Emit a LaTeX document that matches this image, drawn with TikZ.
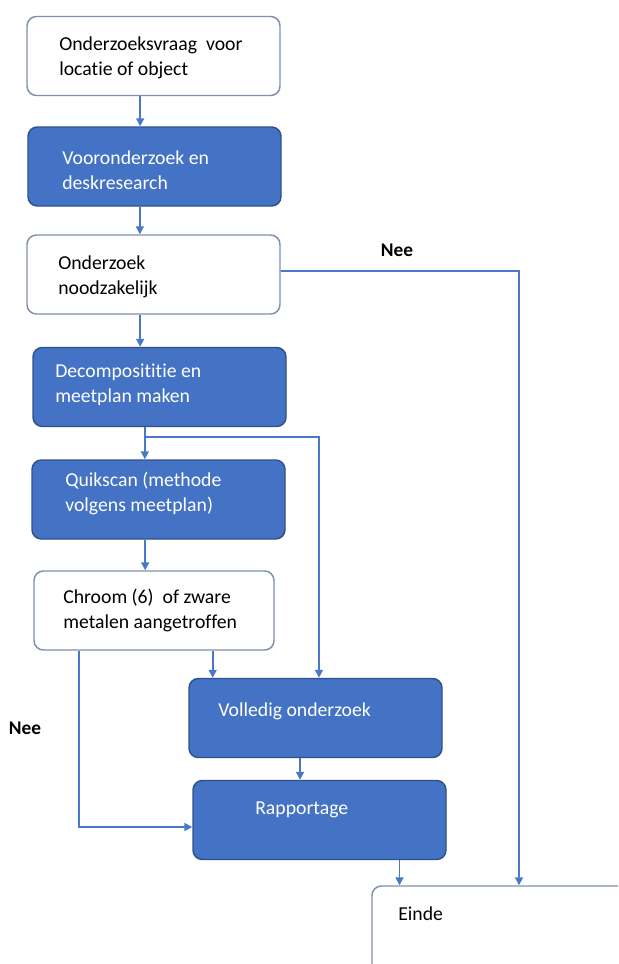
\documentclass[tikz,border=0pt]{standalone}
\usepackage{fontspec}
\setmainfont{Carlito}[Ligatures={NoCommon,NoRare}]
\usetikzlibrary{arrows.meta}

\definecolor{fillblue}{HTML}{4472C4}
\definecolor{rimblue}{HTML}{2F528F}
\definecolor{rimgray}{HTML}{8090AC}
\definecolor{lineblue}{HTML}{4A78C8}

\begin{document}
\begin{tikzpicture}[
  x=0.75pt,y=-0.75pt,
  wbox/.style={rectangle,rounded corners=7pt,draw=rimgray,line width=1.1pt,fill=white,
    minimum width=189.75pt,minimum height=59.25pt,inner sep=0pt},
  bbox/.style={wbox,draw=rimblue,fill=fillblue},
  txt/.style={anchor=west,align=left,inner sep=0pt,font=\fontsize{14.8}{18.75}\selectfont},
  wtxt/.style={txt,text=white},
  lbl/.style={inner sep=0pt,font=\fontsize{14.5}{18.75}\selectfont\bfseries},
  edge/.style={-{Triangle[length=6pt,width=6pt]},lineblue,line width=1.3pt}
]
  \useasboundingbox (0,0) rectangle (618,964);
  \clip (0,0) rectangle (618,964);

  % boxes
  \node[wbox] (q1) at (153.5,56) {};
  \node[bbox] (q2) at (154.5,166.5) {};
  \node[wbox] (q3) at (153.5,274.5) {};
  \node[bbox] (q4) at (159.5,387) {};
  \node[bbox] (q5) at (158.5,499.5) {};
  \node[wbox,minimum width=180pt] (q6) at (154,610.5) {};
  \node[bbox] (q7) at (315.5,718) {};
  \node[bbox] (q8) at (319.5,820) {};
  \node[wbox,minimum width=204.75pt,minimum height=70.5pt] (q9) at (508.5,933) {};

  % texts
  \node[txt] (t1) at (59,58) {Onderzoeksvraag\ \ voor\\locatie of object};
  \node[wtxt] (t2) at (62,170) {Vooronderzoek en\\deskresearch};
  \node[txt] (t3) at (58,277) {Onderzoek\\noodzakelijk};
  \node[wtxt] (t4) at (55,385) {Decomposititie en\\meetplan maken};
  \node[wtxt] (t5) at (65,493) {Quikscan (methode\\volgens meetplan)};
  \node[txt] (t6) at (63,610) {Chroom (6)\ \ of zware\\metalen aangetroffen};
  \node[wtxt] (t7) at (218,711) {Volledig onderzoek};
  \node[wtxt] (t8) at (255,810) {Rapportage};
  \node[txt] (t9) at (398,914) {Einde};

  \node[lbl] (nee1) at (397,250) {Nee};
  \node[lbl] (nee2) at (25,728) {Nee};

  \coordinate (neeR) at (519,271);
  \coordinate (split) at (145,437);

  % connectors
  \draw[edge] ([xshift=-10pt]q1.south) -- ([xshift=-10pt]q1.south |- q2.north);
  \draw[edge] ([xshift=-11pt]q2.south) -- ([xshift=-11pt]q2.south |- q3.north);
  \draw[edge] ([xshift=-10pt]q3.south) -- ([xshift=-10pt]q3.south |- q4.north);
  \draw[edge] ([yshift=2.6pt]q3.east) -- (neeR) -- (neeR |- q9.north);
  \draw[edge] ([xshift=-11pt]q4.south) -- ([xshift=-11pt]q4.south |- q5.north);
  \draw[edge] (split) -| ([xshift=2.6pt]q7.north);
  \draw[edge] ([xshift=-10pt]q5.south) -- ([xshift=-10pt]q5.south |- q6.north);
  \draw[edge] ([xshift=44pt]q6.south) -- ([xshift=44pt]q6.south |- q7.north);
  \draw[edge] ([xshift=-56pt]q6.south) |- ([yshift=-5.25pt]q8.west);
  \draw[edge] ([xshift=-11.6pt]q7.south) -- ([xshift=-11.6pt]q7.south |- q8.north);
  \draw[edge] ([xshift=60pt]q8.south) -- ([xshift=60pt]q8.south |- q9.north);
\end{tikzpicture}
\end{document}
